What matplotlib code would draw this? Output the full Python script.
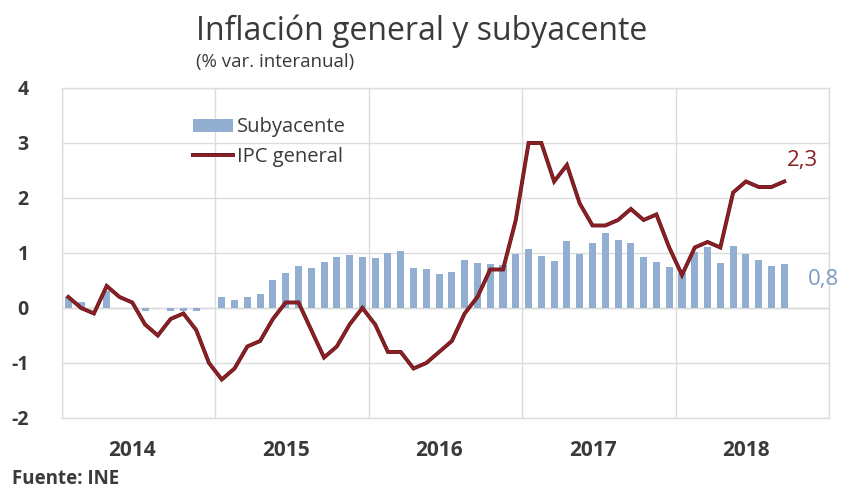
import numpy as np
import matplotlib
matplotlib.use("Agg")
import matplotlib.pyplot as plt
import matplotlib.patheffects as pe

plt.rcParams['font.family'] = ['Open Sans', 'DejaVu Sans']
plt.rcParams['axes.unicode_minus'] = False

# Monthly series, Jan 2014 - Sep 2018 (% y/y)
years = ["2014", "2015", "2016", "2017", "2018"]
ipc_general = [
    0.2, 0.0, -0.1, 0.4, 0.2, 0.1, -0.3, -0.5, -0.2, -0.1, -0.4, -1.0,
    -1.3, -1.1, -0.7, -0.6, -0.2, 0.1, 0.1, -0.4, -0.9, -0.7, -0.3, 0.0,
    -0.3, -0.8, -0.8, -1.1, -1.0, -0.8, -0.6, -0.1, 0.2, 0.7, 0.7, 1.6,
    3.0, 3.0, 2.3, 2.6, 1.9, 1.5, 1.5, 1.6, 1.8, 1.6, 1.7, 1.1,
    0.6, 1.1, 1.2, 1.1, 2.1, 2.3, 2.2, 2.2, 2.3,
]
subyacente = [
    0.2, 0.1, 0.0, 0.3, 0.0, 0.0, -0.05, 0.0, -0.05, -0.05, -0.05, 0.0,
    0.2, 0.15, 0.2, 0.25, 0.5, 0.63, 0.76, 0.73, 0.83, 0.92, 0.97, 0.92,
    0.9, 1.0, 1.03, 0.73, 0.71, 0.62, 0.66, 0.87, 0.81, 0.8, 0.79, 0.98,
    1.07, 0.95, 0.86, 1.22, 0.98, 1.18, 1.36, 1.24, 1.19, 0.92, 0.83, 0.75,
    0.64, 1.02, 1.1, 0.81, 1.12, 0.99, 0.88, 0.76, 0.8,
]

bar_color = "#92aed0"
line_color = "#8a1f24"
grid_color = "#dcdcdc"
text_color = "#3a3a3a"

x = np.arange(len(ipc_general))

fig = plt.figure(figsize=(8.43, 4.91), dpi=100)
ax = fig.add_axes([0.0735, 0.1487, 0.9099, 0.6721])

bars = ax.bar(x, subyacente, width=0.55, color=bar_color, label="Subyacente", zorder=2)
line, = ax.plot(x, ipc_general, color=line_color, lw=2.0, label="IPC general", zorder=3,
                solid_joinstyle="miter",
                path_effects=[pe.Stroke(linewidth=2.8, foreground="#5e1318"), pe.Normal()])

n_months = 12 * len(years)
ax.set_xlim(-0.5, n_months - 0.5)
ax.set_ylim(-2, 4)
ax.set_yticks(range(-2, 5))
ax.tick_params(axis="y", length=0, pad=24, labelsize=14, labelcolor=text_color)
for lbl in ax.get_yticklabels():
    lbl.set_fontweight("bold")

# year boundaries as vertical gridlines, labels centred under each year
ax.set_xticks(np.arange(0, n_months + 1, 12) - 0.5, minor=False)
ax.set_xticklabels([])
ax.set_xticks(np.arange(len(years)) * 12 + 5.0, minor=True)
ax.set_xticklabels(years, minor=True)
ax.tick_params(axis="x", which="both", length=0)
ax.tick_params(axis="x", which="minor", pad=16, labelsize=15, labelcolor=text_color)
for lbl in ax.get_xticklabels(minor=True):
    lbl.set_fontweight("bold")

ax.grid(True, color=grid_color, lw=1.0, zorder=0)
ax.axhline(0, color="#c8c8c8", lw=1.0, zorder=1)
for s in ax.spines.values():
    s.set_color(grid_color)
    s.set_linewidth(1.0)

leg = ax.legend([bars, line], ["Subyacente", "IPC general"],
                loc="upper left", bbox_to_anchor=(0.16, 0.935), frameon=False,
                fontsize=14.5, handlelength=2.0, handleheight=0.6, handletextpad=0.2,
                labelspacing=0.45, borderaxespad=0)
for t in leg.get_texts():
    t.set_color(text_color)

ax.annotate("2,3", xy=(x[-1], ipc_general[-1]), xytext=(2, 15),
            textcoords="offset points", color=line_color, fontsize=16,
            ha="left", va="center")
ax.annotate("0,8", xy=(x[-1], subyacente[-1]), xytext=(17, -11),
            textcoords="offset points", color="#7f9cc0", fontsize=16,
            ha="left", va="center")

fig.text(0.233, 0.937, "Inflación general y subyacente", fontsize=23,
         color=text_color, ha="left", va="center")
fig.text(0.233, 0.873, "(% var. interanual)", fontsize=13.5,
         color=text_color, ha="left", va="center")
fig.text(0.014, 0.025, "Fuente: INE", fontsize=13.5, color=text_color,
         fontweight="bold", ha="left", va="center")

fig.savefig("out.png", dpi=100)
